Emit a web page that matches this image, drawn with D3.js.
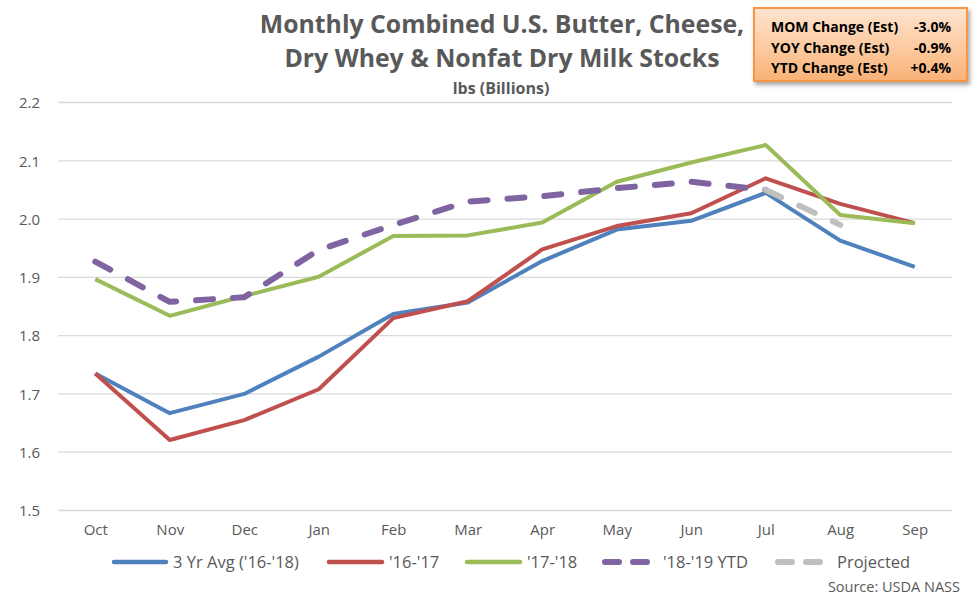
<!DOCTYPE html>
<html>
<head>
<meta charset="utf-8">
<script src="https://cdn.jsdelivr.net/npm/d3@7"></script>
<style>
  html, body { margin: 0; padding: 0; background: #fff; }
  svg { display: block; }
  text { font-family: "Open Sans", "Noto Sans", sans-serif; }
</style>
</head>
<body>
<svg id="chart" width="975" height="601"></svg>
<script>
const months = ["Oct","Nov","Dec","Jan","Feb","Mar","Apr","May","Jun","Jul","Aug","Sep"];
const avg3yr = [1.735,1.667,1.700,1.764,1.837,1.857,1.928,1.982,1.997,2.045,1.963,1.918];
const y1617  = [1.735,1.621,1.655,1.708,1.830,1.859,1.948,1.988,2.010,2.070,2.026,1.993];
const y1718  = [1.897,1.834,1.868,1.901,1.971,1.972,1.994,2.064,2.097,2.127,2.007,1.993];
const y1819  = [1.927,1.858,1.866,1.947,1.990,2.030,2.039,2.053,2.064,2.050];
const projected = [null,null,null,null,null,null,null,null,null,2.050,1.990];
const yTicks = [1.5,1.6,1.7,1.8,1.9,2.0,2.1,2.2];
const titleLines = ["Monthly Combined U.S. Butter, Cheese,", "Dry Whey & Nonfat Dry Milk Stocks"];
const subtitle = "lbs (Billions)";
const boxLabels = ["MOM Change (Est)", "YOY Change (Est)", "YTD Change (Est)"];
const boxValues = ["-3.0%", "-0.9%", "+0.4%"];
const legendNames = ["3 Yr Avg ('16-'18)", "'16-'17", "'17-'18", "'18-'19 YTD", "Projected"];

const svg = d3.select("#chart");
const x = d3.scalePoint().domain(months).range([58, 952]).padding(0.5);
const y = d3.scaleLinear().domain([1.5, 2.2]).range([510.5, 102.5]);

// gridlines
svg.append("g").selectAll("line").data(yTicks).join("line")
  .attr("x1", 58).attr("x2", 952)
  .attr("y1", d => y(d)).attr("y2", d => y(d))
  .attr("stroke", "#d9d9d9").attr("stroke-width", 1.3);

// y axis labels
const yAxis = d3.axisLeft(y).tickValues(yTicks).tickFormat(d3.format(".1f")).tickSize(0).tickPadding(0);
const gy = svg.append("g").attr("transform", "translate(40,0)").call(yAxis);
gy.select(".domain").remove();
gy.selectAll("text").attr("font-size", 15).attr("fill", "#595959")
  .attr("font-family", "'Open Sans', sans-serif").attr("dy", "0.35em");

// x axis labels
const xAxis = d3.axisBottom(x).tickSize(0).tickPadding(0);
const gx = svg.append("g").attr("transform", "translate(0,524)").call(xAxis);
gx.select(".domain").remove();
gx.selectAll("text").attr("font-size", 15).attr("fill", "#595959")
  .attr("font-family", "'Open Sans', sans-serif").attr("dy", "0.71em");

const line = d3.line()
  .defined(d => d != null)
  .x((d, i) => x(months[i]))
  .y(d => y(d));

const series = [
  {data: avg3yr, color: "#4f81bd", dash: null, w: 4},
  {data: y1617, color: "#c0504d", dash: null, w: 4},
  {data: y1718, color: "#9bbb59", dash: null, w: 4},
  {data: y1819, color: "#8064a2", dash: "17,20", w: 6},
  {data: projected, color: "#bfbfbf", dash: "17,20", w: 6}
];

svg.append("g").selectAll("path").data(series).join("path")
  .attr("d", s => line(s.data))
  .attr("fill", "none")
  .attr("stroke", s => s.color)
  .attr("stroke-width", s => s.w)
  .attr("stroke-linejoin", "round")
  .attr("stroke-linecap", s => s.dash ? "round" : "butt")
  .attr("stroke-dasharray", s => s.dash);

// Title
svg.append("g").selectAll("text").data(titleLines).join("text")
  .attr("x", 502).attr("y", (d, i) => 33 + i * 34)
  .attr("text-anchor", "middle")
  .attr("font-size", 24.8).attr("font-weight", "bold").attr("fill", "#595959")
  .text(d => d);
svg.append("text").attr("x", 501).attr("y", 94).attr("text-anchor", "middle")
  .attr("font-size", 16).attr("font-weight", "bold").attr("fill", "#595959")
  .text(subtitle);

// Info box
const defs = svg.append("defs");
const grad = defs.append("linearGradient").attr("id", "boxGrad")
  .attr("x1", 0).attr("y1", 0).attr("x2", 0).attr("y2", 1);
grad.append("stop").attr("offset", "0%").attr("stop-color", "#fde4cf");
grad.append("stop").attr("offset", "55%").attr("stop-color", "#fccaa0");
grad.append("stop").attr("offset", "100%").attr("stop-color", "#f9b175");
const flt = defs.append("filter").attr("id", "shadow").attr("x", "-10%").attr("y", "-10%").attr("width", "130%").attr("height", "140%");
flt.append("feDropShadow").attr("dx", 2).attr("dy", 3).attr("stdDeviation", 2).attr("flood-color", "#000").attr("flood-opacity", 0.35);

svg.append("rect").attr("x", 754).attr("y", 8).attr("width", 213).attr("height", 73)
  .attr("fill", "url(#boxGrad)").attr("stroke", "#f79646").attr("stroke-width", 2)
  .attr("filter", "url(#shadow)");
const bg = svg.append("g");
bg.selectAll("text.lbl").data(boxLabels).join("text").attr("class", "lbl")
  .attr("x", 771).attr("y", (d, i) => 32 + i * 20.5)
  .attr("font-size", 14).attr("font-weight", "bold").attr("fill", "#000")
  .text(d => d);
bg.selectAll("text.val").data(boxValues).join("text").attr("class", "val")
  .attr("x", 951).attr("y", (d, i) => 32 + i * 20.5).attr("text-anchor", "end")
  .attr("font-size", 14).attr("font-weight", "bold").attr("fill", "#000")
  .text(d => d);

// Legend
const legendPos = [
  {x1: 114, x2: 166, tx: 173},
  {x1: 329, x2: 382, tx: 389},
  {x1: 467, x2: 520, tx: 527},
  {x1: 605, x2: 647, tx: 663},
  {x1: 778, x2: 820, tx: 837}
];
const lg = svg.append("g");
series.forEach((s, i) => {
  const p = legendPos[i];
  lg.append("line").attr("x1", p.x1).attr("x2", p.x2).attr("y1", 562).attr("y2", 562)
    .attr("stroke", s.color).attr("stroke-width", s.dash ? 6 : 4.5)
    .attr("stroke-linecap", "round")
    .attr("stroke-dasharray", s.dash ? "14,14" : null);
  lg.append("text").attr("x", p.tx).attr("y", 568)
    .attr("font-size", 16.5).attr("fill", "#595959").text(legendNames[i]);
});

svg.append("text").attr("x", 960).attr("y", 592).attr("text-anchor", "end")
  .attr("font-size", 14.5).attr("fill", "#595959").text("Source: USDA NASS");
</script>
</body>
</html>
